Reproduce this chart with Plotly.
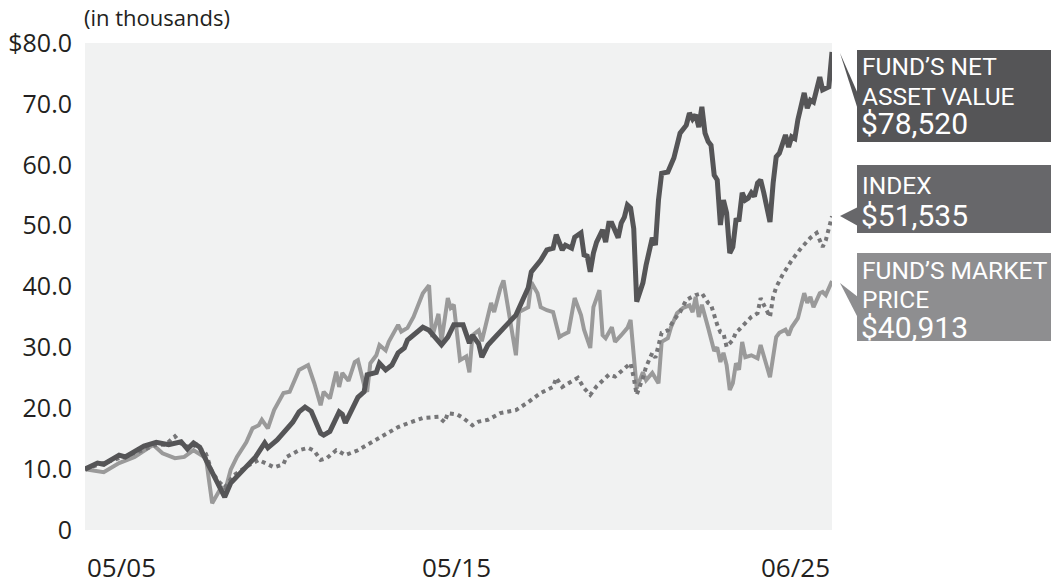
import pandas as pd
import plotly.graph_objects as go

# months since 05/2005 and values (in thousands of $)
nav_month = [0, 4, 6, 11, 13, 17, 19, 23, 25, 27, 31, 33, 35, 37, 39, 41, 43, 45, 47, 51,
             55, 58, 59, 62, 65, 67, 69, 71, 73, 76, 77, 79, 82, 83, 84, 86, 88, 90, 91, 94,
             95, 97, 99, 101, 103, 104, 106, 109, 111, 113, 115, 117, 119, 122, 124, 125, 127, 128, 130, 132,
             134, 136, 139, 141, 143, 144, 146, 147, 149, 151, 152, 154, 155, 157, 158, 160, 161, 162, 163, 164,
             165, 167, 168, 169, 170, 172, 173, 174, 175, 176, 177, 178, 180, 181, 183, 184, 185, 186, 188, 190,
             192, 194, 195, 196, 197, 198, 199, 200, 201, 202, 203, 204, 205, 206, 207, 208, 209, 210, 211, 212,
             213, 214, 215, 216, 217, 218, 219, 221, 222, 223, 224, 226, 227, 228, 229, 230, 232, 233, 234, 235,
             237, 238, 240, 241]
nav_value = [10.0, 11.0, 10.8, 12.3, 12.0, 13.1, 13.8, 14.4, 14.3, 14.0, 14.5, 13.3, 14.3, 13.6, 11.5, 9.4, 7.7, 5.4, 7.7, 9.9,
             12.0, 14.3, 13.5, 14.8, 16.4, 17.7, 19.4, 20.2, 19.5, 15.9, 15.6, 16.2, 19.4, 19.0, 17.6, 19.7, 21.8, 22.7, 25.5, 25.9,
             27.4, 26.3, 27.1, 29.1, 29.9, 31.2, 32.0, 33.3, 32.8, 31.5, 30.4, 31.7, 33.7, 33.7, 30.7, 32.0, 30.6, 28.4, 30.4, 31.5,
             32.5, 33.7, 35.3, 37.8, 39.8, 42.4, 43.5, 44.3, 46.0, 46.3, 48.5, 46.0, 46.8, 46.3, 48.1, 48.8, 45.2, 45.0, 42.4, 45.5,
             47.3, 49.3, 47.3, 50.4, 50.4, 48.0, 50.4, 51.4, 53.4, 52.9, 49.5, 37.5, 40.6, 43.5, 48.0, 46.8, 54.2, 58.6, 58.8, 61.1,
             65.2, 66.5, 68.5, 67.5, 68.2, 66.2, 69.5, 65.2, 63.8, 63.2, 58.3, 57.5, 50.1, 54.2, 52.1, 45.5, 46.5, 50.9, 51.0, 55.4,
             54.2, 54.5, 55.4, 54.8, 57.0, 57.5, 55.4, 50.6, 57.0, 61.3, 61.9, 64.9, 62.9, 64.6, 64.3, 67.4, 71.8, 69.3, 70.6, 70.3,
             74.4, 72.3, 72.8, 78.52]

mkt_month = [0, 6, 11, 16, 22, 25, 29, 32, 35, 39, 40, 41, 44, 45, 47, 49, 52, 54, 56, 57,
             59, 61, 64, 66, 69, 72, 74, 76, 77, 79, 81, 82, 83, 85, 87, 88, 90, 91, 92, 94,
             95, 97, 98, 101, 102, 104, 106, 109, 111, 112, 114, 115, 117, 118, 119, 121, 123, 124, 125, 127,
             128, 130, 131, 132, 134, 135, 136, 139, 140, 143, 144, 146, 147, 149, 151, 153, 154, 156, 158, 160,
             161, 163, 164, 166, 167, 168, 170, 171, 173, 175, 176, 177, 178, 180, 181, 183, 185, 186, 188, 189,
             191, 193, 195, 196, 197, 198, 199, 201, 203, 204, 205, 206, 207, 208, 209, 210, 211, 212, 213, 215,
             217, 218, 220, 221, 223, 224, 226, 227, 228, 230, 232, 233, 234, 235, 237, 238, 239, 240, 241]
mkt_value = [10.0, 9.5, 11.0, 12.0, 14.0, 12.6, 11.8, 12.0, 13.1, 11.8, 8.0, 4.4, 7.1, 6.2, 9.9, 12.0, 14.4, 16.7, 17.2, 18.1,
             16.7, 19.7, 22.5, 22.7, 26.3, 27.1, 24.1, 20.5, 22.7, 21.6, 26.0, 23.5, 25.8, 24.5, 27.6, 27.9, 23.8, 22.7, 27.4, 28.7,
             30.4, 29.5, 30.9, 33.7, 32.6, 33.2, 35.0, 38.9, 40.2, 31.7, 35.5, 31.0, 38.1, 36.5, 37.0, 27.9, 28.5, 25.9, 32.0, 32.8,
             31.0, 35.6, 37.3, 35.8, 39.7, 41.0, 38.0, 28.7, 35.8, 36.6, 40.7, 38.9, 36.6, 36.1, 35.8, 31.7, 32.0, 32.5, 38.1, 35.3,
             32.9, 29.9, 36.6, 39.4, 32.0, 31.5, 33.3, 30.9, 32.0, 33.2, 34.5, 28.4, 23.3, 25.9, 24.6, 25.8, 24.1, 30.9, 31.5, 33.3,
             35.6, 36.5, 36.9, 35.8, 38.3, 35.0, 37.0, 33.2, 29.4, 30.0, 27.6, 29.1, 27.1, 23.0, 24.1, 27.4, 26.3, 30.9, 28.4, 28.7,
             28.2, 30.4, 27.1, 25.1, 31.7, 32.4, 32.9, 32.0, 33.3, 34.8, 38.9, 37.3, 38.3, 36.6, 38.9, 39.1, 38.6, 39.7, 40.913]

idx_month = [0, 5, 11, 17, 23, 26, 29, 31, 34, 36, 39, 41, 43, 45, 48, 53, 56, 59, 61, 64,
             65, 69, 72, 74, 76, 78, 81, 82, 84, 88, 92, 96, 101, 105, 109, 114, 116, 117, 120, 122,
             125, 127, 130, 134, 139, 143, 147, 151, 152, 154, 157, 159, 161, 163, 165, 167, 169, 171, 174, 176,
             177, 178, 180, 181, 183, 184, 186, 188, 190, 192, 194, 197, 199, 201, 202, 203, 204, 205, 206, 207,
             209, 210, 211, 213, 215, 217, 218, 219, 221, 222, 223, 225, 226, 228, 231, 233, 234, 236, 238, 239,
             240, 241]
idx_value = [10.0, 10.8, 11.8, 12.8, 14.0, 14.0, 15.4, 14.2, 13.5, 14.0, 12.5, 9.5, 8.0, 7.0, 9.0, 10.7, 11.5, 10.8, 10.3, 10.8,
             12.0, 13.1, 13.5, 13.0, 11.5, 11.8, 13.1, 12.9, 12.3, 13.1, 14.3, 15.3, 16.9, 17.7, 18.4, 18.6, 17.7, 19.2, 19.0, 18.4,
             17.2, 17.8, 18.1, 19.2, 19.7, 21.0, 22.5, 23.5, 25.0, 23.5, 24.3, 25.0, 23.3, 22.2, 23.6, 24.6, 25.5, 25.2, 26.6, 27.4,
             25.0, 22.2, 25.0, 26.8, 29.1, 28.3, 32.4, 32.8, 34.5, 35.8, 37.8, 38.6, 38.9, 37.3, 37.0, 35.0, 33.7, 32.5, 32.3, 30.1,
             31.2, 32.5, 32.9, 34.0, 35.0, 35.6, 38.1, 37.0, 35.0, 38.3, 39.9, 41.9, 42.7, 44.3, 46.3, 47.6, 48.0, 48.8, 46.5, 47.6,
             49.3, 51.535]

start = pd.Period("2005-05", "M")
def to_dates(months):
    return [(start + m).to_timestamp() for m in months]

y_ticks = [0, 10, 20, 30, 40, 50, 60, 70, 80]
y_tick_text = ["0", "10.0", "20.0", "30.0", "40.0", "50.0", "60.0", "70.0", "$80.0"]
x_labels = ["05/05", "05/15", "06/25"]
x_label_months = [0, 120, 241]

# layout geometry (pixels)
W, H = 1051, 587
L, R, T, B = 85, 832, 43, 530
def fx(px):
    return (px - L) / (R - L)
def fy(py):
    return (B - py) / (B - T)

NAV_C = "#555557"
IDX_C = "#767678"
MKT_C = "#9a9a9a"
NAV_BOX = "#555557"
IDX_BOX = "#67676a"
MKT_BOX = "#8e8e90"

fig = go.Figure()
fig.add_trace(go.Scatter(x=to_dates(mkt_month), y=mkt_value, mode="lines",
                         line=dict(color=MKT_C, width=4), name="Fund's Market Price"))
fig.add_trace(go.Scatter(x=to_dates(idx_month), y=idx_value, mode="lines",
                         line=dict(color=IDX_C, width=4, dash="dot"), name="Index"))
fig.add_trace(go.Scatter(x=to_dates(nav_month), y=nav_value, mode="lines",
                         line=dict(color=NAV_C, width=5), name="Fund's Net Asset Value"))

shapes = []
def rect(x0, y0, x1, y1, color):
    shapes.append(dict(type="rect", xref="paper", yref="paper", x0=fx(x0), x1=fx(x1),
                       y0=fy(y1), y1=fy(y0), fillcolor=color, line=dict(width=0), layer="above"))
def tri(pts, color):
    path = "M " + " L ".join(f"{fx(a)},{fy(b)}" for a, b in pts) + " Z"
    shapes.append(dict(type="path", xref="paper", yref="paper", path=path,
                       fillcolor=color, line=dict(width=0), layer="above"))

rect(857, 50, 1051, 142, NAV_BOX)
tri([(840, 53), (858, 94), (858, 110)], NAV_BOX)
rect(857, 165, 1051, 233, IDX_BOX)
tri([(840, 216), (858, 207), (858, 226)], IDX_BOX)
rect(857, 253, 1051, 341, MKT_BOX)
tri([(840, 283), (858, 297), (858, 318)], MKT_BOX)

ann = []
def label(text, px, py, size, xanchor="left", color="white", family="Roboto"):
    ann.append(dict(text=text, xref="paper", yref="paper", x=fx(px), y=fy(py),
                    xanchor=xanchor, yanchor="middle", showarrow=False,
                    font=dict(family=family, size=size, color=color)))

label("FUND\u2019S NET", 860, 67, 24.5)
label("ASSET VALUE", 860, 96, 24.5)
label("$78,520", 859, 123, 30)
label("INDEX", 860, 185, 24.5)
label("$51,535", 859, 215, 30)
label("FUND\u2019S MARKET", 860, 270, 24.5)
label("PRICE", 860, 299, 24.5)
label("$40,913", 859, 327, 30)
label("(in thousands)", 82, 17, 22, color="#231f20", family="Open Sans")

anchors = ["left", "center", "right"]
for txt, m, a in zip(x_labels, x_label_months, anchors):
    ann.append(dict(text=txt, xref="x", yref="paper", x=(start + m).to_timestamp(), y=fy(567),
                    xanchor=a, yanchor="middle", showarrow=False,
                    font=dict(family="Open Sans", size=26, color="#231f20")))

fig.update_layout(
    width=W, height=H,
    margin=dict(l=L, r=W - R, t=T, b=H - B, pad=0, autoexpand=False),
    paper_bgcolor="white", plot_bgcolor="#f1f2f2",
    showlegend=False, shapes=shapes, annotations=ann,
    xaxis=dict(range=[start.to_timestamp(), (start + 241).to_timestamp()], automargin=False,
               showgrid=False, zeroline=False, showticklabels=False, ticks="", showline=False),
    yaxis=dict(range=[0, 80], tickvals=y_ticks, ticktext=y_tick_text, showgrid=False, automargin=False,
               zeroline=False, ticks="", showline=False, ticklabelstandoff=12,
               tickfont=dict(family="Open Sans", size=25, color="#231f20")),
)
fig.write_html("out.html", config={"displayModeBar": False},
               post_script="document.body.style.margin='0';document.body.style.overflow='hidden';")
